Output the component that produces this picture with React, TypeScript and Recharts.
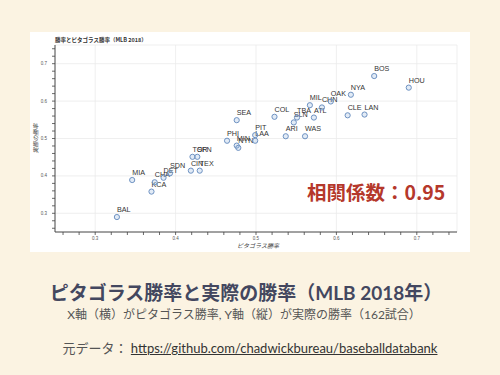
import React from "react";
import { ScatterChart, Scatter, XAxis, YAxis, ReferenceLine } from "recharts";

const teams = ["BAL","MIA","KCA","CHA","DET","SDN","CIN","TEX","TOR","SFN","PHI","SEA","MIN","NYN","LAA","PIT","COL","ARI","WAS","SLN","TBA","ATL","MIL","CHN","OAK","NYA","CLE","LAN","BOS","HOU"];
const pythagPct = [0.327,0.346,0.370,0.374,0.385,0.393,0.419,0.430,0.421,0.427,0.464,0.476,0.476,0.478,0.499,0.499,0.523,0.537,0.561,0.547,0.551,0.572,0.567,0.582,0.593,0.618,0.614,0.635,0.647,0.690];
const actualPct = [0.290,0.389,0.358,0.383,0.395,0.407,0.414,0.414,0.451,0.451,0.494,0.549,0.481,0.475,0.494,0.509,0.558,0.506,0.506,0.543,0.556,0.556,0.589,0.583,0.599,0.617,0.562,0.564,0.667,0.636];

const minorTicks = [0.26,0.28,0.30,0.32,0.34,0.36,0.38,0.40,0.42,0.44,0.46,0.48,0.50,0.52,0.54,0.56,0.58,0.60,0.62,0.64,0.66,0.68,0.70,0.72,0.74];
const majorTicks = [0.3,0.4,0.5,0.6,0.7];
const gridLines = [0.3,0.4,0.5,0.6,0.7,0.75];

const data = teams.map((t, i) => ({ team: t, x: pythagPct[i], y: actualPct[i] }));

const isMajor = (v: number) => majorTicks.some((m) => Math.abs(m - v) < 1e-6);

const XTick = (props: any) => {
  const { x, y, payload } = props;
  if (!isMajor(payload.value)) return <g />;
  return (
    <text x={x} y={y} dy="0.71em" textAnchor="middle" fontSize={4.5} fill="#555" fontFamily="Liberation Sans, Arial, sans-serif">
      {payload.value.toFixed(1)}
    </text>
  );
};

const YTick = (props: any) => {
  const { x, y, payload } = props;
  if (!isMajor(payload.value)) return <g />;
  return (
    <text x={x} y={y} dy="0.35em" textAnchor="end" fontSize={4.5} fill="#555" fontFamily="Liberation Sans, Arial, sans-serif">
      {payload.value.toFixed(1)}
    </text>
  );
};

const PointShape = (props: any) => {
  const { cx, cy, payload } = props;
  return (
    <g>
      <circle cx={cx} cy={cy} r={2.6} fill="rgba(140,175,220,0.25)" stroke="#6E92C2" strokeWidth={1} />
      <text x={cx} y={cy - 5} fontSize={7.2} fill="#333333" fontFamily="Liberation Sans, Arial, sans-serif">
        {payload.team}
      </text>
    </g>
  );
};

const jp = "'Noto Sans CJK JP', sans-serif";

export default function App() {
  return (
    <div style={{ position: "absolute", left: 0, top: 0, width: 500, height: 375, background: "#FBF3E2", overflow: "hidden", fontFamily: jp }}>
      <div style={{ position: "absolute", left: 30, top: 32, width: 440, height: 220, background: "#ffffff" }}>
        <ScatterChart width={440} height={220} margin={{ top: 13, right: 13, bottom: 0, left: 0 }}>
          {gridLines.map((v) => (
            <ReferenceLine key={"vx" + v} x={v} stroke="#ebebeb" strokeWidth={0.8} ifOverflow="visible" />
          ))}
          {gridLines.map((v) => (
            <ReferenceLine key={"hy" + v} y={v} stroke="#ebebeb" strokeWidth={0.8} ifOverflow="visible" />
          ))}
          <XAxis
            type="number"
            dataKey="x"
            domain={[0.25, 0.75]}
            ticks={minorTicks}
            interval={0}
            height={20}
            tickSize={3}
            tickMargin={2}
            stroke="#444"
            tickLine={{ stroke: "#444", strokeWidth: 0.8 }}
            axisLine={{ stroke: "#444", strokeWidth: 1 }}
            tick={<XTick />}
            allowDataOverflow
          />
          <YAxis
            type="number"
            dataKey="y"
            domain={[0.25, 0.75]}
            ticks={minorTicks}
            interval={0}
            width={25}
            tickSize={3}
            tickMargin={5}
            stroke="#444"
            tickLine={{ stroke: "#444", strokeWidth: 0.8 }}
            axisLine={{ stroke: "#444", strokeWidth: 1 }}
            tick={<YTick />}
            allowDataOverflow
          />
          <Scatter data={data} isAnimationActive={false} shape={<PointShape />} />
          <text x={25} y={10} fontSize={5.5} fontWeight="bold" fill="#333" fontFamily={jp}>
            勝率とピタゴラス勝率（MLB 2018）
          </text>
          <text x={228} y={215.5} fontSize={6} fontStyle="italic" textAnchor="middle" fill="#444" fontFamily={jp}>
            ピタゴラス勝率
          </text>
          <text x={8} y={106.5} fontSize={6} fontStyle="italic" textAnchor="middle" fill="#444" fontFamily={jp} transform="rotate(-90 8 106.5)">
            実際の勝率
          </text>
          <text x={277} y={167.5} fontSize={19.5} fontWeight="bold" fill="#B5382B" fontFamily={jp}>
            相関係数：0.95
          </text>
        </ScatterChart>
      </div>
      <div style={{ position: "absolute", left: -4, width: 500, top: 281, textAlign: "center", fontSize: 19, fontWeight: "bold", color: "#43475F", lineHeight: "24px", fontFamily: "Lato, " + jp }}>
        ピタゴラス勝率と実際の勝率（MLB 2018年）
      </div>
      <div style={{ position: "absolute", left: -6, width: 500, top: 307, textAlign: "center", fontSize: 12, color: "#555", lineHeight: "16px", fontFamily: "Lato, " + jp }}>
        X軸（横）がピタゴラス勝率, Y軸（縦）が実際の勝率（162試合）
      </div>
      <div style={{ position: "absolute", left: 0, width: 500, top: 340, textAlign: "center", fontSize: 13, color: "#555", lineHeight: "16px", fontFamily: "Lato, " + jp }}>
        元データ：{" "}
        <span style={{ color: "#333", textDecoration: "underline" }}>https://github.com/chadwickbureau/baseballdatabank</span>
      </div>
    </div>
  );
}
